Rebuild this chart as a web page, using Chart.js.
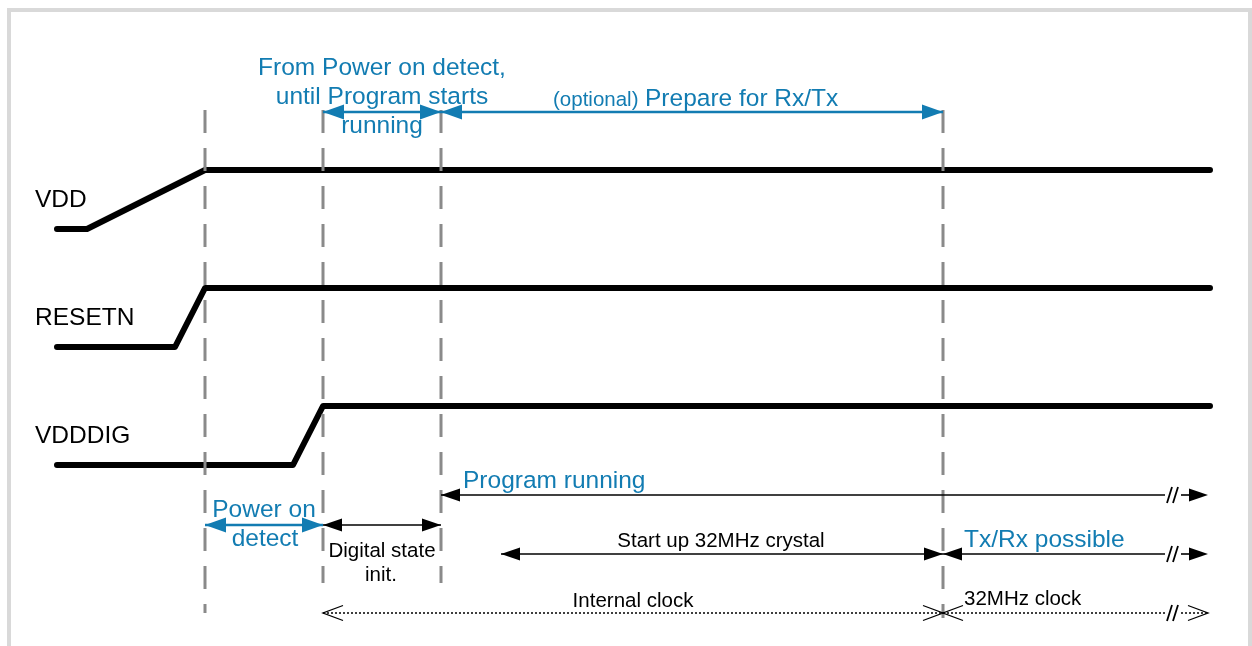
<!DOCTYPE html>
<html>
<head>
<meta charset="utf-8">
<script src="https://cdn.jsdelivr.net/npm/chart.js@4/dist/chart.umd.min.js"></script>
<style>
  html, body { margin: 0; padding: 0; background: #fff; }
  #wrap { width: 1252px; height: 646px; }
</style>
</head>
<body>
<div id="wrap"><canvas id="timing" width="1252" height="646"></canvas></div>
<script>
// time axis is in picture units, y is the drawing row (top = 0)
const signalNames = ['VDD', 'RESETN', 'VDDDIG'];
const signalLow = [229, 347, 465];
const signalHigh = [170, 288, 406];
const riseStart = [87, 175, 293];
const riseEnd = [205, 205, 323];
const traceStart = 57;
const traceEnd = 1210;

const markerTimes = [205, 323, 441, 943];
const markerTop = [110, 110, 110, 110];
const markerBottom = [613, 583, 583, 618];

// [from, to, row]
const blueSpans = [[323, 441, 112], [441, 943, 112], [205, 323, 525]];
const blackSpans = [[323, 441, 525], [501, 943, 554]];
// spans that run off to the right with a break mark: [from, row]
const brokenSpans = [[441, 495], [943, 554]];
const dottedSpans = [[323, 943, 613]];
const dottedBroken = [[943, 613]];
const breakAt = 1165;
const breakResume = 1181;
const arrowTip = 1208;

const labels = [
  // text, x, y, size, colour, align
  ['VDD', 35, 207, 24.5, 'black', 'left'],
  ['RESETN', 35, 325, 24.5, 'black', 'left'],
  ['VDDDIG', 35, 443, 24.5, 'black', 'left'],
  ['From Power on detect,', 382, 75, 24.5, 'blue', 'center'],
  ['until Program starts', 382, 104, 24.5, 'blue', 'center'],
  ['running', 382, 133, 24.5, 'blue', 'center'],
  ['(optional)', 553, 106, 20.5, 'blue', 'left'],
  ['Prepare for Rx/Tx', 645, 106, 24.5, 'blue', 'left'],
  ['Program running', 463, 488, 24.5, 'blue', 'left'],
  ['Power on', 264, 517, 24.5, 'blue', 'center'],
  ['detect', 265, 546, 24.5, 'blue', 'center'],
  ['Digital state', 382, 557, 20.5, 'black', 'center'],
  ['init.', 381, 581, 20.5, 'black', 'center'],
  ['Start up 32MHz crystal', 721, 547, 20.5, 'black', 'center'],
  ['Tx/Rx possible', 964, 547, 24.5, 'blue', 'left'],
  ['Internal clock', 633, 607, 20.5, 'black', 'center'],
  ['32MHz clock', 964, 605, 20.5, 'black', 'left']
];

const BLUE = '#127cb2';
const GREY = '#8a8a8a';
const FONT = '"Liberation Sans", Arial, sans-serif';

const datasets = [];
function seg(points, style) {
  datasets.push(Object.assign({
    data: points.map(p => ({ x: p[0], y: p[1] })),
    showLine: true, pointRadius: 0, fill: false, tension: 0
  }, style));
}

signalNames.forEach((n, i) => {
  seg([[traceStart, signalLow[i]], [riseStart[i], signalLow[i]],
       [riseEnd[i], signalHigh[i]], [traceEnd, signalHigh[i]]],
      { label: n, borderColor: '#000', borderWidth: 6, borderCapStyle: 'round', borderJoinStyle: 'round', order: 2 });
});

markerTimes.forEach((t, i) => {
  seg([[t, markerTop[i]], [t, markerBottom[i]]],
      { borderColor: GREY, borderWidth: 3, borderDash: [23, 15], order: 1 });
});

blueSpans.forEach(s => seg([[s[0], s[2]], [s[1], s[2]]], { borderColor: BLUE, borderWidth: 2.5, order: 0 }));
blackSpans.forEach(s => seg([[s[0], s[2]], [s[1], s[2]]], { borderColor: '#000', borderWidth: 1.6, order: 0 }));
brokenSpans.forEach(s => {
  seg([[s[0], s[1]], [breakAt, s[1]]], { borderColor: '#000', borderWidth: 1.6, order: 0 });
  seg([[breakResume, s[1]], [arrowTip - 10, s[1]]], { borderColor: '#000', borderWidth: 1.6, order: 0 });
});
dottedSpans.forEach(s => seg([[s[0], s[2]], [s[1], s[2]]], { borderColor: '#000', borderWidth: 1.3, borderDash: [2, 2], order: 0 }));
dottedBroken.forEach(s => {
  seg([[s[0], s[1]], [breakAt, s[1]]], { borderColor: '#000', borderWidth: 1.3, borderDash: [2, 2], order: 0 });
  seg([[breakResume, s[1]], [arrowTip, s[1]]], { borderColor: '#000', borderWidth: 1.3, borderDash: [2, 2], order: 0 });
});
// break marks "//"
[...brokenSpans, ...dottedBroken].forEach(s => {
  [1167, 1173].forEach(bx => {
    seg([[bx, s[1] + 8], [bx + 5, s[1] - 8]], { borderColor: '#000', borderWidth: 1.8, order: 0 });
  });
});

function filledHead(ctx, x, y, dir, len, half, color) {
  ctx.beginPath();
  ctx.moveTo(x, y);
  ctx.lineTo(x - dir * len, y - half);
  ctx.lineTo(x - dir * len, y + half);
  ctx.closePath();
  ctx.fillStyle = color;
  ctx.fill();
}
function openHead(ctx, x, y, dir, len, half) {
  ctx.beginPath();
  ctx.moveTo(x - dir * len, y - half);
  ctx.lineTo(x, y);
  ctx.lineTo(x - dir * len, y + half);
  ctx.strokeStyle = '#000';
  ctx.lineWidth = 1.3;
  ctx.setLineDash([]);
  ctx.stroke();
}

const overlay = {
  id: 'overlay',
  beforeDraw(chart) {
    const ctx = chart.ctx;
    ctx.save();
    ctx.strokeStyle = '#d9d9d9';
    ctx.lineWidth = 4;
    ctx.beginPath();
    ctx.moveTo(9, 660);
    ctx.lineTo(9, 10);
    ctx.lineTo(1250, 10);
    ctx.lineTo(1250, 660);
    ctx.stroke();
    ctx.restore();
  },
  afterDatasetsDraw(chart) {
    const ctx = chart.ctx;
    const X = v => chart.scales.x.getPixelForValue(v);
    const Y = v => chart.scales.y.getPixelForValue(v);
    ctx.save();
    blueSpans.forEach(s => {
      filledHead(ctx, X(s[0]), Y(s[2]), -1, 21, 7.5, BLUE);
      filledHead(ctx, X(s[1]), Y(s[2]), 1, 21, 7.5, BLUE);
    });
    blackSpans.forEach(s => {
      filledHead(ctx, X(s[0]), Y(s[2]), -1, 19, 6.5, '#000');
      filledHead(ctx, X(s[1]), Y(s[2]), 1, 19, 6.5, '#000');
    });
    brokenSpans.forEach(s => {
      filledHead(ctx, X(s[0]), Y(s[1]), -1, 19, 6.5, '#000');
      filledHead(ctx, X(arrowTip), Y(s[1]), 1, 19, 6.5, '#000');
    });
    dottedSpans.forEach(s => {
      openHead(ctx, X(s[0]), Y(s[2]), -1, 20, 7.5);
      openHead(ctx, X(s[1]), Y(s[2]), 1, 20, 7.5);
    });
    dottedBroken.forEach(s => {
      openHead(ctx, X(s[0]), Y(s[1]), -1, 20, 7.5);
      openHead(ctx, X(arrowTip), Y(s[1]), 1, 20, 7.5);
    });
    labels.forEach(l => {
      ctx.font = l[3] + 'px ' + FONT;
      ctx.fillStyle = l[4] === 'blue' ? BLUE : '#000';
      ctx.textAlign = l[5];
      ctx.textBaseline = 'alphabetic';
      ctx.fillText(l[0], X(l[1]), Y(l[2]));
    });
    ctx.restore();
  }
};

new Chart(document.getElementById('timing'), {
  type: 'scatter',
  data: { datasets },
  options: {
    responsive: false,
    animation: false,
    devicePixelRatio: 1,
    layout: { padding: 0 },
    events: [],
    plugins: { legend: { display: false }, tooltip: { enabled: false } },
    scales: {
      x: { type: 'linear', min: 0, max: 1252, display: false },
      y: { type: 'linear', min: 0, max: 646, reverse: true, display: false }
    }
  },
  plugins: [overlay]
});
</script>
</body>
</html>
